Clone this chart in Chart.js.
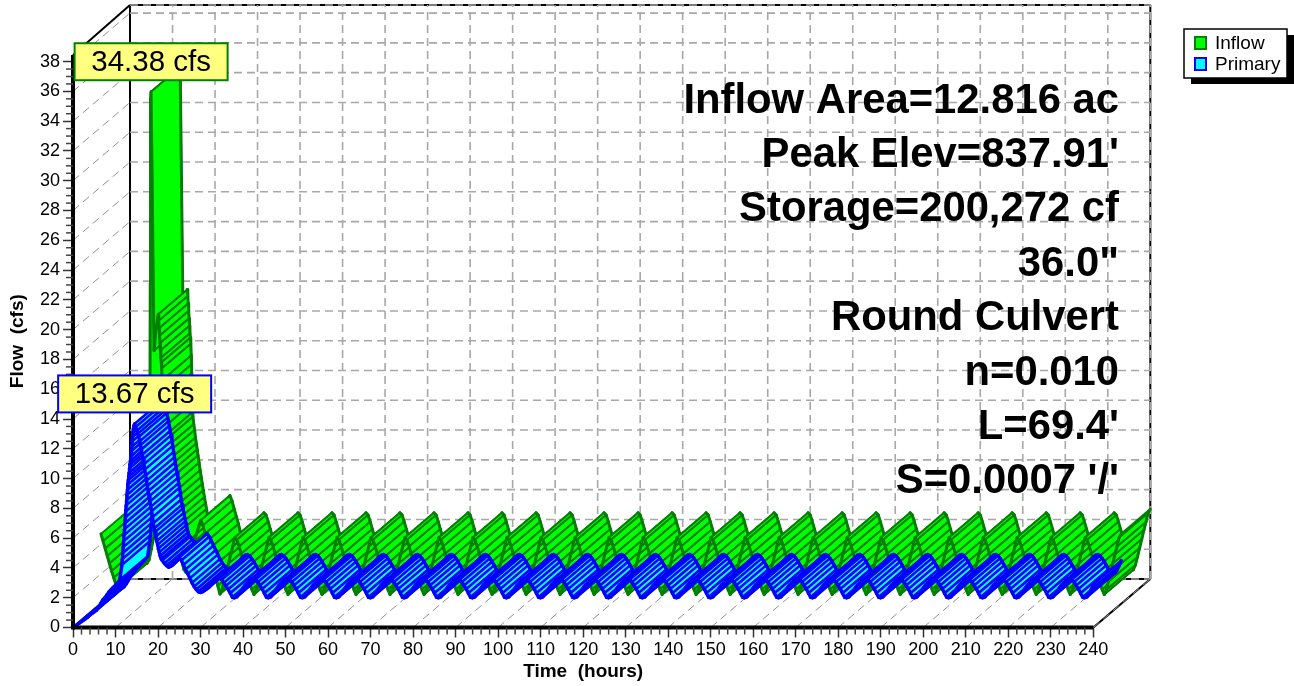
<!DOCTYPE html>
<html><head><meta charset="utf-8"><style>html,body{margin:0;padding:0;background:#fff}canvas{display:block}</style>
<script src="https://cdn.jsdelivr.net/npm/chart.js@4/dist/chart.umd.min.js"></script></head>
<body><canvas id="c" width="1294" height="686"></canvas>
<script>
const laterHours=[30.5,31,31.5,32,32.5,33,33.5,34,34.5,35,35.5,36,36.5,37,37.5,38,38.5,39,39.5,40,40.5,41,41.5,42,42.5,43,43.5,44,44.5,45,45.5,46,46.5,47,47.5,48,48.5,49,49.5,50,
50.5,51,51.5,52,52.5,53,53.5,54,54.5,55,55.5,56,56.5,57,57.5,58,58.5,59,59.5,60,60.5,61,61.5,62,62.5,63,63.5,64,64.5,65,65.5,66,66.5,67,67.5,68,68.5,69,69.5,70,
70.5,71,71.5,72,72.5,73,73.5,74,74.5,75,75.5,76,76.5,77,77.5,78,78.5,79,79.5,80,80.5,81,81.5,82,82.5,83,83.5,84,84.5,85,85.5,86,86.5,87,87.5,88,88.5,89,89.5,90,
90.5,91,91.5,92,92.5,93,93.5,94,94.5,95,95.5,96,96.5,97,97.5,98,98.5,99,99.5,100,100.5,101,101.5,102,102.5,103,103.5,104,104.5,105,105.5,106,106.5,107,107.5,108,108.5,109,109.5,110,
110.5,111,111.5,112,112.5,113,113.5,114,114.5,115,115.5,116,116.5,117,117.5,118,118.5,119,119.5,120,120.5,121,121.5,122,122.5,123,123.5,124,124.5,125,125.5,126,126.5,127,127.5,128,128.5,129,129.5,130,
130.5,131,131.5,132,132.5,133,133.5,134,134.5,135,135.5,136,136.5,137,137.5,138,138.5,139,139.5,140,140.5,141,141.5,142,142.5,143,143.5,144,144.5,145,145.5,146,146.5,147,147.5,148,148.5,149,149.5,150,
150.5,151,151.5,152,152.5,153,153.5,154,154.5,155,155.5,156,156.5,157,157.5,158,158.5,159,159.5,160,160.5,161,161.5,162,162.5,163,163.5,164,164.5,165,165.5,166,166.5,167,167.5,168,168.5,169,169.5,170,
170.5,171,171.5,172,172.5,173,173.5,174,174.5,175,175.5,176,176.5,177,177.5,178,178.5,179,179.5,180,180.5,181,181.5,182,182.5,183,183.5,184,184.5,185,185.5,186,186.5,187,187.5,188,188.5,189,189.5,190,
190.5,191,191.5,192,192.5,193,193.5,194,194.5,195,195.5,196,196.5,197,197.5,198,198.5,199,199.5,200,200.5,201,201.5,202,202.5,203,203.5,204,204.5,205,205.5,206,206.5,207,207.5,208,208.5,209,209.5,210,
210.5,211,211.5,212,212.5,213,213.5,214,214.5,215,215.5,216,216.5,217,217.5,218,218.5,219,219.5,220,220.5,221,221.5,222,222.5,223,223.5,224,224.5,225,225.5,226,226.5,227,227.5,228,228.5,229,229.5,230,
230.5,231,231.5,232,232.5,233,233.5,234,234.5,235,235.5,236,236.5,237,237.5,238,238.5,239,239.5,240];
const inflowHours=[0,0.5,1,1.5,2,2.5,3,3.5,4,4.5,5,5.5,6,6.5,7,7.5,8,8.5,9,9.5,10,10.5,11,11.5,11.6,11.7,11.8,12.5,13,13.5,13.6,13.7,13.8,13.9,14,14.1,14.2,14.3,14.4,14.45,14.5,14.55,14.6,14.65,14.7,14.8,15,15.2,15.4,15.6,15.8,16,16.25,16.5,16.75,17,17.25,17.5,17.75,18,18.5,19,19.5,20,20.5,21,21.5,22,22.5,23,23.5,24,24.5,25,25.5,26,26.5,27,27.5,28,28.5,29,29.5,30,...laterHours];
const primaryHours=[0,0.5,1,1.5,2,2.5,3,3.5,4,4.5,5,5.5,6,6.5,7,7.5,8,8.5,9,9.5,10,10.5,11,11.5,11.6,11.7,11.8,11.9,12,12.1,12.2,12.3,12.4,12.5,12.6,12.7,12.8,12.9,13,13.1,13.2,13.3,13.4,13.5,13.6,13.7,13.8,13.9,14,14.1,14.2,14.3,14.4,14.5,14.75,15,15.25,15.5,15.7,15.9,16.1,16.3,16.5,16.7,16.9,17.1,17.3,17.5,17.7,17.9,18.1,18.3,18.5,18.7,18.9,19.1,19.3,19.5,19.7,19.9,20.1,20.3,20.5,20.75,21,21.5,22,22.5,23,23.5,24,24.5,25,25.5,26,26.5,27,27.5,28,28.5,29,29.5,30,...laterHours];
const inflowCfs=[4.69,4.2,3.7,3.2,2.7,2.2,1.75,1.3,1.05,1.3,2.0,2.7,3.4,4.1,4.6,4.9,4.9,5.0,5.2,5.5,6.0,6.5,7.5,9.0,21.5,33.9,34.38,17.0,18.5,19.44,19,18.5,18,17.5,17,16.5,16.2,15.8,15,14.4,13.8,13.2,12.5,11.8,11.2,10.9,10.4,10.0,9.5,9.1,8.7,8.3,7.8,7.3,6.85,6.4,5.95,5.5,5.1,4.7,3.7,2.9,2.3,2.1,2.6,3.2,3.7,4.2,4.7,5.2,5.6,5.25,4.7,4.2,3.7,3.1,2.5,1.9,1.2,0.65,0.95,1.5,2.1,2.7,
/*30.5*/3.3,3.85,4.45,4.3,3.85,3.35,2.85,2.35,1.85,1.35,0.95,0.62,0.95,1.5,2.1,2.7,
/*38.5*/3.3,3.85,4.45,4.3,3.85,3.35,2.85,2.35,1.85,1.35,0.95,0.62,0.95,1.5,2.1,2.7,
/*46.5*/3.3,3.85,4.45,4.3,3.85,3.35,2.85,2.35,1.85,1.35,0.95,0.62,0.95,1.5,2.1,2.7,
/*54.5*/3.3,3.85,4.45,4.3,3.85,3.35,2.85,2.35,1.85,1.35,0.95,0.62,0.95,1.5,2.1,2.7,
/*62.5*/3.3,3.85,4.45,4.3,3.85,3.35,2.85,2.35,1.85,1.35,0.95,0.62,0.95,1.5,2.1,2.7,
/*70.5*/3.3,3.85,4.45,4.3,3.85,3.35,2.85,2.35,1.85,1.35,0.95,0.62,0.95,1.5,2.1,2.7,
/*78.5*/3.3,3.85,4.45,4.3,3.85,3.35,2.85,2.35,1.85,1.35,0.95,0.62,0.95,1.5,2.1,2.7,
/*86.5*/3.3,3.85,4.45,4.3,3.85,3.35,2.85,2.35,1.85,1.35,0.95,0.62,0.95,1.5,2.1,2.7,
/*94.5*/3.3,3.85,4.45,4.3,3.85,3.35,2.85,2.35,1.85,1.35,0.95,0.62,0.95,1.5,2.1,2.7,
/*102.5*/3.3,3.85,4.45,4.3,3.85,3.35,2.85,2.35,1.85,1.35,0.95,0.62,0.95,1.5,2.1,2.7,
/*110.5*/3.3,3.85,4.45,4.3,3.85,3.35,2.85,2.35,1.85,1.35,0.95,0.62,0.95,1.5,2.1,2.7,
/*118.5*/3.3,3.85,4.45,4.3,3.85,3.35,2.85,2.35,1.85,1.35,0.95,0.62,0.95,1.5,2.1,2.7,
/*126.5*/3.3,3.85,4.45,4.3,3.85,3.35,2.85,2.35,1.85,1.35,0.95,0.62,0.95,1.5,2.1,2.7,
/*134.5*/3.3,3.85,4.45,4.3,3.85,3.35,2.85,2.35,1.85,1.35,0.95,0.62,0.95,1.5,2.1,2.7,
/*142.5*/3.3,3.85,4.45,4.3,3.85,3.35,2.85,2.35,1.85,1.35,0.95,0.62,0.95,1.5,2.1,2.7,
/*150.5*/3.3,3.85,4.45,4.3,3.85,3.35,2.85,2.35,1.85,1.35,0.95,0.62,0.95,1.5,2.1,2.7,
/*158.5*/3.3,3.85,4.45,4.3,3.85,3.35,2.85,2.35,1.85,1.35,0.95,0.62,0.95,1.5,2.1,2.7,
/*166.5*/3.3,3.85,4.45,4.3,3.85,3.35,2.85,2.35,1.85,1.35,0.95,0.62,0.95,1.5,2.1,2.7,
/*174.5*/3.3,3.85,4.45,4.3,3.85,3.35,2.85,2.35,1.85,1.35,0.95,0.62,0.95,1.5,2.1,2.7,
/*182.5*/3.3,3.85,4.45,4.3,3.85,3.35,2.85,2.35,1.85,1.35,0.95,0.62,0.95,1.5,2.1,2.7,
/*190.5*/3.3,3.85,4.45,4.3,3.85,3.35,2.85,2.35,1.85,1.35,0.95,0.62,0.95,1.5,2.1,2.7,
/*198.5*/3.3,3.85,4.45,4.3,3.85,3.35,2.85,2.35,1.85,1.35,0.95,0.62,0.95,1.5,2.1,2.7,
/*206.5*/3.3,3.85,4.45,4.3,3.85,3.35,2.85,2.35,1.85,1.35,0.95,0.62,0.95,1.5,2.1,2.7,
/*214.5*/3.3,3.85,4.45,4.3,3.85,3.35,2.85,2.35,1.85,1.35,0.95,0.62,0.95,1.5,2.1,2.7,
/*222.5*/3.3,3.85,4.45,4.3,3.85,3.35,2.85,2.35,1.85,1.35,0.95,0.62,0.95,1.5,2.1,2.7,
/*230.5*/3.3,3.85,4.45,4.3,3.85,3.35,2.85,2.35,1.85,1.35,0.95,0.62,0.95,1.5,2.1,2.7,
3.3,3.85,4.45,4.7];
const primaryCfs=[0,0.1,0.2,0.3,0.4,0.5,0.6,0.7,0.85,0.95,1.05,1.15,1.35,1.6,1.85,2.0,2.2,2.4,2.55,2.7,2.85,3.0,3.2,4.2,4.6,5.0,5.4,5.8,6.2,6.6,7,7.4,7.8,8.2,8.55,8.9,9.25,9.6,9.9,10.15,10.4,10.7,10.95,11.2,11.5,11.85,12.15,12.5,12.8,13.1,13.35,13.5,13.6,13.67,13.45,13.2,13.0,12.8,12.5,12.25,11.95,11.6,11.3,10.95,10.6,10.2,9.85,9.5,9.15,8.8,8.45,8.1,7.8,7.4,7.0,6.65,6.4,6.1,5.8,5.55,5.3,5.05,4.8,4.6,4.5,4.3,4.15,4.05,4.1,4.2,4.35,4.5,4.7,4.5,4.2,3.9,3.6,3.3,3.0,2.75,2.55,2.4,2.35,
/*30.5*/2.4,2.5,2.6,2.7,2.85,3.0,3.15,3.27,3.3,3.2,3.0,2.8,2.55,2.3,2.03,2.0,
/*38.5*/2.05,2.25,2.45,2.65,2.85,3.0,3.15,3.26,3.3,3.22,3.05,2.82,2.58,2.3,2.03,2.0,
/*46.5*/2.05,2.25,2.45,2.65,2.85,3.0,3.15,3.26,3.3,3.22,3.05,2.82,2.58,2.3,2.03,2.0,
/*54.5*/2.05,2.25,2.45,2.65,2.85,3.0,3.15,3.26,3.3,3.22,3.05,2.82,2.58,2.3,2.03,2.0,
/*62.5*/2.05,2.25,2.45,2.65,2.85,3.0,3.15,3.26,3.3,3.22,3.05,2.82,2.58,2.3,2.03,2.0,
/*70.5*/2.05,2.25,2.45,2.65,2.85,3.0,3.15,3.26,3.3,3.22,3.05,2.82,2.58,2.3,2.03,2.0,
/*78.5*/2.05,2.25,2.45,2.65,2.85,3.0,3.15,3.26,3.3,3.22,3.05,2.82,2.58,2.3,2.03,2.0,
/*86.5*/2.05,2.25,2.45,2.65,2.85,3.0,3.15,3.26,3.3,3.22,3.05,2.82,2.58,2.3,2.03,2.0,
/*94.5*/2.05,2.25,2.45,2.65,2.85,3.0,3.15,3.26,3.3,3.22,3.05,2.82,2.58,2.3,2.03,2.0,
/*102.5*/2.05,2.25,2.45,2.65,2.85,3.0,3.15,3.26,3.3,3.22,3.05,2.82,2.58,2.3,2.03,2.0,
/*110.5*/2.05,2.25,2.45,2.65,2.85,3.0,3.15,3.26,3.3,3.22,3.05,2.82,2.58,2.3,2.03,2.0,
/*118.5*/2.05,2.25,2.45,2.65,2.85,3.0,3.15,3.26,3.3,3.22,3.05,2.82,2.58,2.3,2.03,2.0,
/*126.5*/2.05,2.25,2.45,2.65,2.85,3.0,3.15,3.26,3.3,3.22,3.05,2.82,2.58,2.3,2.03,2.0,
/*134.5*/2.05,2.25,2.45,2.65,2.85,3.0,3.15,3.26,3.3,3.22,3.05,2.82,2.58,2.3,2.03,2.0,
/*142.5*/2.05,2.25,2.45,2.65,2.85,3.0,3.15,3.26,3.3,3.22,3.05,2.82,2.58,2.3,2.03,2.0,
/*150.5*/2.05,2.25,2.45,2.65,2.85,3.0,3.15,3.26,3.3,3.22,3.05,2.82,2.58,2.3,2.03,2.0,
/*158.5*/2.05,2.25,2.45,2.65,2.85,3.0,3.15,3.26,3.3,3.22,3.05,2.82,2.58,2.3,2.03,2.0,
/*166.5*/2.05,2.25,2.45,2.65,2.85,3.0,3.15,3.26,3.3,3.22,3.05,2.82,2.58,2.3,2.03,2.0,
/*174.5*/2.05,2.25,2.45,2.65,2.85,3.0,3.15,3.26,3.3,3.22,3.05,2.82,2.58,2.3,2.03,2.0,
/*182.5*/2.05,2.25,2.45,2.65,2.85,3.0,3.15,3.26,3.3,3.22,3.05,2.82,2.58,2.3,2.03,2.0,
/*190.5*/2.05,2.25,2.45,2.65,2.85,3.0,3.15,3.26,3.3,3.22,3.05,2.82,2.58,2.3,2.03,2.0,
/*198.5*/2.05,2.25,2.45,2.65,2.85,3.0,3.15,3.26,3.3,3.22,3.05,2.82,2.58,2.3,2.03,2.0,
/*206.5*/2.05,2.25,2.45,2.65,2.85,3.0,3.15,3.26,3.3,3.22,3.05,2.82,2.58,2.3,2.03,2.0,
/*214.5*/2.05,2.25,2.45,2.65,2.85,3.0,3.15,3.26,3.3,3.22,3.05,2.82,2.58,2.3,2.03,2.0,
/*222.5*/2.05,2.25,2.45,2.65,2.85,3.0,3.15,3.26,3.3,3.22,3.05,2.82,2.58,2.3,2.03,2.0,
/*230.5*/2.05,2.25,2.45,2.65,2.85,3.0,3.15,3.26,3.3,3.22,3.05,2.82,2.58,2.3,2.03,2.0,
2.05,2.25,2.55,2.9];
const notes=["Inflow Area=12.816 ac","Peak Elev=837.91'","Storage=200,272 cf",'36.0"',"Round Culvert","n=0.010","L=69.4'","S=0.0007 '/'"];
const seriesNames=["Inflow","Primary"];
const peakLabels=["34.38 cfs","13.67 cfs"];

const FONT='"Liberation Sans", Arial, sans-serif';
const depthX=13.41, depthY=3.257, split=0.49;
const XMAX=253.1, YMAX=41.8;

function ribbon(times,values,z0,z1,label,fillCol,lineCol,hatch,edge){
  const out=[];
  const n=Math.min(times.length,values.length);
  const gap={x:NaN,y:NaN};
  const base={label,pointRadius:0,tension:0,borderColor:lineCol,borderJoinStyle:'round',borderCapStyle:'round',clip:false,spanGaps:false};
  for(let i=0;i<n-1;i++){
    const P=(t,v,z)=>({x:t+z*depthX,y:v+z*depthY});
    const a=times[i],b=times[i+1],va=values[i],vb=values[i+1];
    out.push({...base,data:[P(a,va,z0),P(a,va,z1),P(b,vb,z1),P(b,vb,z0),P(a,va,z0)],
      fill:'shape',backgroundColor:fillCol,borderWidth:hatch});
    out.push({...base,data:[P(a,va,z0),P(b,vb,z0),gap,P(a,va,z1),P(b,vb,z1)],
      fill:false,borderWidth:edge});
  }
  return out.reverse(); // later hours paint over earlier ones, each edge over its own face
}
const datasets=[...ribbon(primaryHours,primaryCfs,0,split,seriesNames[1],'#00FFFF','#0000FF',2.4,3.4),
                ...ribbon(inflowHours,inflowCfs,split,1,seriesNames[0],'#00FF00','#008000',2,3)];

function seg(ctx,a,b,col,w,dash){ctx.save();ctx.strokeStyle=col;ctx.lineWidth=w;ctx.setLineDash(dash||[]);
  ctx.beginPath();ctx.moveTo(a[0],a[1]);ctx.lineTo(b[0],b[1]);ctx.stroke();ctx.restore();}

const box3d={id:'box3d',
  beforeDatasetsDraw(ch){
    const c=ch.ctx,X=ch.scales.x,Y=ch.scales.y;
    const P=(t,v,z)=>[X.getPixelForValue(t+z*depthX),Y.getPixelForValue(v+z*depthY)];
    const topV=YMAX-depthY, endT=240, wallD=[8,5], G='#a8a8a8';
    seg(c,P(0,0,1),P(endT,0,1),'#000',2);
    seg(c,P(0,topV,1),P(endT,topV,1),'#000',2);
    seg(c,P(0,0,1),P(0,topV,1),'#000',2);
    seg(c,P(endT,0,1),P(endT,topV,1),'#000',2);
    seg(c,P(0,38.45,0),P(0,topV,1),'#000',2);
    seg(c,P(endT,0,0),P(endT,0,1),'#000',2);
    for(let t=0;t<=endT;t+=10){
      if(t>0) seg(c,P(t,0,1),P(t,topV,1),G,1.6,wallD);
      seg(c,P(t,0,0),P(t,0,1),'#909090',1,wallD);
    }
    for(let v=2;v<=38;v+=2){
      seg(c,P(0,v,1),P(endT,v,1),G,1.6,wallD);
      seg(c,P(0,v,0),P(0,v,1),'#909090',1,wallD);
    }
    seg(c,P(0,0,1),P(endT,0,1),G,1.6,wallD);
    seg(c,P(0,topV,1),P(endT,topV,1),G,1.6,wallD);
  },
  afterDatasetsDraw(ch){
    const c=ch.ctx,X=ch.scales.x,Y=ch.scales.y;
    seg(c,[X.getPixelForValue(0),Y.getPixelForValue(0)],[X.getPixelForValue(240),Y.getPixelForValue(0)],'#000',4);
    seg(c,[X.getPixelForValue(0),Y.getPixelForValue(0)+2],[X.getPixelForValue(0),Y.getPixelForValue(38.45)],'#000',4);
    for(let t=0;t<=240;t+=2){ if(t%10){const x=X.getPixelForValue(t),y=Y.getPixelForValue(0);seg(c,[x,y],[x,y+7],'#444',1.5);} }
    for(let v=0;v<=38;v+=0.5){ if(v%2){const x=X.getPixelForValue(0),y=Y.getPixelForValue(v);seg(c,[x,y],[x-7,y],'#444',1.5);} }
    c.save();c.fillStyle='#000';c.font='bold 19px '+FONT;c.textAlign='center';c.textBaseline='middle';
    c.fillText('Time  (hours)',(X.getPixelForValue(0)+X.getPixelForValue(240))/2,671.5);
    c.translate(18,(Y.getPixelForValue(0)+Y.getPixelForValue(38.45))/2);c.rotate(-Math.PI/2);
    c.fillText('Flow  (cfs)',0,0);c.restore();
    c.save();c.fillStyle='#000';c.font='bold 41.8px '+FONT;c.textAlign='right';c.textBaseline='middle';
    notes.forEach((s,i)=>c.fillText(s,1119,101+i*54.4));
    c.restore();
    const peak=(times,vals,z)=>{let k=0;vals.forEach((v,i)=>{if(v>vals[k])k=i;});return [X.getPixelForValue(times[k]+z*depthX),Y.getPixelForValue(vals[k]+z*depthY)];};
    const box=(pt,txt,col)=>{
      const w=153,h=37,x=pt[0]-w/2,y=pt[1]-30-h/2;
      c.save();c.fillStyle='#FFFF80';c.fillRect(x,y,w,h);c.strokeStyle=col;c.lineWidth=2;c.strokeRect(x,y,w,h);
      c.fillStyle='#000';c.font='29.5px '+FONT;c.textAlign='center';c.textBaseline='middle';c.fillText(txt,x+w/2,y+h/2+1);c.restore();};
    box(peak(inflowHours,inflowCfs,split),peakLabels[0],'#008000');
    box(peak(primaryHours,primaryCfs,0),peakLabels[1],'#0000FF');
    c.save();
    c.fillStyle='#000';c.fillRect(1191,35,103,49);
    c.fillStyle='#fff';c.fillRect(1184,29,103,49);
    c.strokeStyle='#000';c.lineWidth=1.5;c.strokeRect(1184,29,103,49);
    c.fillStyle='#00FF00';c.strokeStyle='#008000';c.lineWidth=2;c.fillRect(1195,37,11,12);c.strokeRect(1195,37,11,12);
    c.fillStyle='#00FFFF';c.strokeStyle='#0000FF';c.fillRect(1195,58,11,12);c.strokeRect(1195,58,11,12);
    c.fillStyle='#000';c.font='19px '+FONT;c.textAlign='left';c.textBaseline='middle';
    c.fillText(seriesNames[0],1215,43.5);c.fillText(seriesNames[1],1215,64.5);
    c.restore();
  }};

new Chart(document.getElementById('c'),{type:'line',data:{datasets},plugins:[box3d],options:{
  responsive:false,animation:false,devicePixelRatio:1,events:[],normalized:true,
  layout:{padding:{top:5,right:145,left:0,bottom:0}},
  plugins:{legend:{display:false},tooltip:{enabled:false},title:{display:false}},
  scales:{
    x:{type:'linear',min:0,max:XMAX,
      afterFit(s){s.height=58.5;s.paddingLeft=0;s.paddingRight=0;},
      afterBuildTicks(s){s.ticks=s.ticks.filter(t=>t.value<=240&&t.value%10===0);},
      ticks:{stepSize:10,color:'#000',font:{family:FONT,size:18},padding:2,maxRotation:0,autoSkip:false,includeBounds:false},
      grid:{drawOnChartArea:false,tickLength:10,tickColor:'#333',tickWidth:1.5},border:{display:false}},
    y:{type:'linear',min:0,max:YMAX,
      afterFit(s){s.width=73;s.paddingTop=0;s.paddingBottom=0;},
      afterBuildTicks(s){s.ticks=s.ticks.filter(t=>t.value<=38&&t.value%2===0);},
      ticks:{stepSize:2,color:'#000',font:{family:FONT,size:18},padding:3,autoSkip:false,includeBounds:false},
      grid:{drawOnChartArea:false,tickLength:10,tickColor:'#333',tickWidth:1.5},border:{display:false}}
  }}});
</script></body></html>
